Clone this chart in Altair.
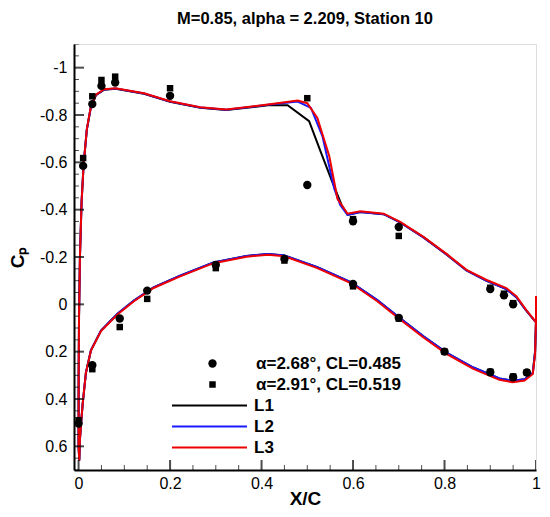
import altair as alt
import pandas as pd

FONT = "Liberation Sans"
TITLE = "M=0.85, alpha = 2.209, Station 10"

# ---- axis ticks ----
X_TICKS = [0, 0.2, 0.4, 0.6, 0.8, 1]
Y_TICKS = [-1, -0.8, -0.6, -0.4, -0.2, 0, 0.2, 0.4, 0.6]
X_MINOR = [0.05, 0.1, 0.15, 0.25, 0.3, 0.35, 0.45, 0.5, 0.55, 0.65, 0.7, 0.75, 0.85, 0.9, 0.95]
Y_MINOR = [-1.1, -1.05, -0.95, -0.9, -0.85, -0.75, -0.7, -0.65, -0.55, -0.5, -0.45, -0.35,
           -0.3, -0.25, -0.15, -0.1, -0.05, 0.05, 0.1, 0.15, 0.25, 0.3, 0.35, 0.45, 0.5,
           0.55, 0.65, 0.7]

# ---- computed lines (upper surface LE->TE, lower surface LE->TE) ----
MODELS = ["L1", "L2", "L3"]
MODEL_COLORS = ["#000000", "#1a1aff", "#ee0000"]

UP_X_L3 = [0.0, 0.0002, 0.001, 0.003, 0.0065, 0.011, 0.018, 0.027, 0.038, 0.056, 0.081, 0.143,
           0.2, 0.266, 0.323, 0.414, 0.479, 0.5, 0.522, 0.548, 0.566, 0.588, 0.616, 0.667,
           0.703, 0.754, 0.805, 0.848, 0.891, 0.935, 0.957, 0.978, 0.998, 1.0]
UP_CP_L3 = [0.6, 0.3, 0.05, -0.2, -0.43, -0.59, -0.739, -0.837, -0.886, -0.909, -0.913, -0.892,
            -0.858, -0.833, -0.823, -0.844, -0.861, -0.85, -0.788, -0.627, -0.446, -0.383,
            -0.393, -0.383, -0.348, -0.285, -0.212, -0.146, -0.104, -0.069, -0.034, 0.022,
            0.071, 0.075]

UP_X_L2 = [0.0, 0.0002, 0.001, 0.003, 0.0065, 0.011, 0.018, 0.027, 0.038, 0.056, 0.081, 0.143,
           0.2, 0.266, 0.323, 0.414, 0.479, 0.508, 0.533, 0.559, 0.572, 0.588, 0.616, 0.667,
           0.703, 0.754, 0.805, 0.848, 0.891, 0.935, 0.957, 0.978, 0.998, 1.0]
UP_CP_L2 = [0.6, 0.3, 0.05, -0.2, -0.43, -0.59, -0.738, -0.836, -0.885, -0.908, -0.912, -0.891,
            -0.857, -0.832, -0.822, -0.843, -0.857, -0.83, -0.711, -0.488, -0.42, -0.378,
            -0.39, -0.381, -0.346, -0.283, -0.21, -0.143, -0.1, -0.064, -0.03, 0.025,
            0.072, 0.075]

UP_X_L1 = [0.0, 0.0002, 0.001, 0.003, 0.0065, 0.011, 0.018, 0.027, 0.038, 0.056, 0.081, 0.143,
           0.2, 0.266, 0.323, 0.414, 0.457, 0.504, 0.53, 0.555, 0.575, 0.588, 0.616, 0.667,
           0.703, 0.754, 0.805, 0.848, 0.891, 0.935, 0.957, 0.978, 0.998, 1.0]
UP_CP_L1 = [0.6, 0.3, 0.05, -0.2, -0.43, -0.59, -0.737, -0.835, -0.884, -0.907, -0.911, -0.89,
            -0.856, -0.831, -0.821, -0.841, -0.841, -0.774, -0.641, -0.515, -0.42, -0.378,
            -0.39, -0.381, -0.346, -0.283, -0.21, -0.143, -0.1, -0.064, -0.03, 0.025,
            0.072, 0.075]

LO_X = [0.0015, 0.003, 0.006, 0.009, 0.016, 0.027, 0.049, 0.085, 0.121, 0.164, 0.222, 0.295,
        0.367, 0.414, 0.45, 0.522, 0.595, 0.653, 0.703, 0.754, 0.805, 0.863, 0.92, 0.949,
        0.975, 0.993, 0.998, 1.0, 1.0]
LO_CP_L3 = [0.66, 0.57, 0.49, 0.42, 0.29, 0.195, 0.113, 0.043, -0.013, -0.069, -0.118, -0.174,
            -0.201, -0.21, -0.203, -0.153, -0.09, -0.013, 0.064, 0.14, 0.21, 0.273, 0.319,
            0.329, 0.322, 0.294, 0.21, 0.07, -0.035]
LO_CP_L2 = [0.66, 0.57, 0.49, 0.42, 0.29, 0.194, 0.111, 0.04, -0.016, -0.072, -0.121, -0.177,
            -0.204, -0.213, -0.206, -0.157, -0.094, -0.018, 0.059, 0.135, 0.205, 0.267, 0.313,
            0.323, 0.317, 0.29, 0.2, 0.07, -0.035]
LO_CP_L1 = [0.66, 0.57, 0.49, 0.42, 0.29, 0.194, 0.111, 0.04, -0.016, -0.072, -0.121, -0.177,
            -0.204, -0.213, -0.206, -0.157, -0.094, -0.018, 0.059, 0.135, 0.205, 0.267, 0.313,
            0.323, 0.317, 0.29, 0.2, 0.07, -0.035]

# ---- experiments ----
CASES = ["\u03b1=2.68\u00b0, CL=0.485", "\u03b1=2.91\u00b0, CL=0.519"]
EXP1_X = [0.01, 0.03, 0.05, 0.08, 0.2, 0.5, 0.6, 0.7, 0.9, 0.93, 0.95,
          0.0, 0.03, 0.09, 0.15, 0.3, 0.45, 0.6, 0.7, 0.8, 0.9, 0.95, 0.98]
EXP1_CP = [-0.585, -0.846, -0.923, -0.937, -0.881, -0.504, -0.351, -0.327, -0.065, -0.038, 0.0,
           0.504, 0.257, 0.06, -0.058, -0.166, -0.192, -0.086, 0.057, 0.2, 0.287, 0.308, 0.288]
EXP2_X = [0.01, 0.03, 0.05, 0.08, 0.2, 0.5, 0.6, 0.7, 0.9, 0.93, 0.95,
          0.0, 0.03, 0.09, 0.15, 0.3, 0.45, 0.6, 0.7, 0.8, 0.9, 0.95, 0.98]
EXP2_CP = [-0.618, -0.879, -0.948, -0.962, -0.913, -0.871, -0.36, -0.289, -0.07, -0.045, -0.005,
           0.49, 0.274, 0.096, -0.023, -0.153, -0.185, -0.076, 0.06, 0.2, 0.285, 0.305, 0.288]

W, H = 462, 426

rows = []
for m, ux, ucp, lcp in [("L1", UP_X_L1, UP_CP_L1, LO_CP_L1),
                         ("L2", UP_X_L2, UP_CP_L2, LO_CP_L2),
                         ("L3", UP_X_L3, UP_CP_L3, LO_CP_L3)]:
    xs = list(reversed(ux)) + LO_X
    cs = list(reversed(ucp)) + lcp
    for i, (a, b) in enumerate(zip(xs, cs)):
        rows.append({"model": m, "x": a, "cp": b, "i": i})
lines_df = pd.DataFrame(rows)

prow = []
for c, xs, cs in [(CASES[0], EXP1_X, EXP1_CP), (CASES[1], EXP2_X, EXP2_CP)]:
    for a, b in zip(xs, cs):
        prow.append({"case": c, "x": a, "cp": b})
pts_df = pd.DataFrame(prow)

xs_ = alt.Scale(domain=[-0.01, 1.0], nice=False, zero=False)
ys_ = alt.Scale(domain=[-1.1, 0.7], reverse=True, nice=False, zero=False)


def x_axis():
    return alt.Axis(values=X_TICKS, labelExpr="datum.value + ''", ticks=False, grid=False,
                    domainColor="black", domainWidth=2, labelFont=FONT, labelFontSize=16,
                    labelColor="black", labelPadding=5, labelFlush=False, title="X/C",
                    titleFont=FONT, titleFontSize=19, titleFontWeight="bold",
                    titleColor="black", titlePadding=-2)


def y_axis():
    return alt.Axis(values=Y_TICKS, labelExpr="datum.value + ''", ticks=False, grid=False,
                    domainColor="black", domainWidth=2, labelFont=FONT, labelFontSize=16,
                    labelColor="black", labelPadding=7, labelFlush=False, title="C\u209a",
                    titleFont=FONT, titleFontSize=19, titleFontWeight="bold",
                    titleColor="black", titlePadding=12)


lines = alt.Chart(lines_df).mark_line(strokeWidth=2).encode(
    x=alt.X("x:Q", scale=xs_, axis=x_axis()),
    y=alt.Y("cp:Q", scale=ys_, axis=y_axis()),
    order="i:Q",
    color=alt.Color("model:N", scale=alt.Scale(domain=MODELS, range=MODEL_COLORS),
                    legend=alt.Legend(orient="none", legendX=127, legendY=353, title=None,
                                      symbolType="M-10,0H10", symbolSize=56.25,
                                      symbolStrokeWidth=2, labelFont=FONT, labelFontSize=17,
                                      labelFontWeight="bold", labelColor="black",
                                      labelOffset=36, rowPadding=3, padding=0)),
)

pt_legend = dict(orient="none", legendX=130, legendY=311, title=None,
                 labelFont=FONT, labelFontSize=17, labelFontWeight="bold",
                 labelColor="black", labelOffset=35, rowPadding=3,
                 padding=0, symbolFillColor="black",
                 symbolStrokeColor="black", symbolStrokeWidth=0)

pts = alt.Chart(pts_df).mark_point(filled=True, opacity=1, color="black").encode(
    x=alt.X("x:Q", scale=xs_, axis=x_axis()),
    y=alt.Y("cp:Q", scale=ys_, axis=y_axis()),
    shape=alt.Shape("case:N", scale=alt.Scale(domain=CASES, range=["circle", "square"]),
                    legend=alt.Legend(**pt_legend)),
    size=alt.Size("case:N", scale=alt.Scale(domain=CASES, range=[70, 42]),
                  legend=alt.Legend(**pt_legend)),
)

ytick_major = alt.Chart(pd.DataFrame({"cp": Y_TICKS})).mark_tick(
    orient="horizontal", size=20, thickness=2, color="black", clip=True).encode(
    y=alt.Y("cp:Q", scale=ys_, axis=y_axis()), x=alt.value(0))
ytick_minor = alt.Chart(pd.DataFrame({"cp": Y_MINOR})).mark_tick(
    orient="horizontal", size=10, thickness=1, color="black", clip=True).encode(
    y=alt.Y("cp:Q", scale=ys_, axis=y_axis()), x=alt.value(0))
xtick_major = alt.Chart(pd.DataFrame({"x": X_TICKS})).mark_tick(
    orient="vertical", size=20, thickness=2, color="black", clip=True).encode(
    x=alt.X("x:Q", scale=xs_, axis=x_axis()), y=alt.value(H))
xtick_minor = alt.Chart(pd.DataFrame({"x": X_MINOR})).mark_tick(
    orient="vertical", size=10, thickness=1, color="black", clip=True).encode(
    x=alt.X("x:Q", scale=xs_, axis=x_axis()), y=alt.value(H))

chart = alt.layer(lines, pts, ytick_major, ytick_minor, xtick_major, xtick_minor).properties(
    width=W, height=H,
    title=alt.TitleParams(TITLE, font=FONT, fontSize=16.5, fontWeight="bold", color="black",
                          anchor="middle", frame="group", offset=17),
    padding={"left": 0, "top": 2, "right": 0, "bottom": 0},
).configure_view(stroke=None).configure(background="white")

chart.save("out.html", embed_options={"renderer": "svg", "actions": False})
